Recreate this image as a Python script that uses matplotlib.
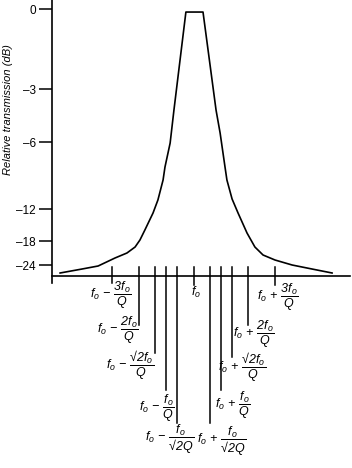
import numpy as np
import matplotlib
matplotlib.use("Agg")
import matplotlib.pyplot as plt
from matplotlib.transforms import blended_transform_factory

plt.rcParams['font.family'] = ['Liberation Sans', 'DejaVu Sans']
plt.rcParams['mathtext.fontset'] = 'custom'
plt.rcParams['mathtext.rm'] = 'Liberation Sans:italic'
plt.rcParams['mathtext.it'] = 'Liberation Sans:italic'
plt.rcParams['mathtext.sf'] = 'Liberation Sans:italic'
plt.rcParams['mathtext.bf'] = 'Liberation Sans:italic:bold'

# ---- data (x in units of f0/Q offset from f0, y in dB) ----
curve_x = [-4.91, -4.10, -3.51, -2.89, -2.45, -2.15, -1.97, -1.79, -1.49, -1.31, -1.12,
           -1.05, -0.86, -0.72, -0.28,
           0.35, 0.83, 0.98, 1.16, 1.23, 1.42, 1.64, 1.97, 2.26, 2.56, 3.00, 3.63, 4.36, 5.10]
curve_db = [-26.18, -25.09, -24.27, -22.25, -21.0, -19.5, -17.8, -15.94, -12.75, -11.19, -9.40,
            -8.24, -6.09, -4.19, -0.11,
            -0.11, -4.19, -5.49, -8.24, -9.40, -11.1, -12.75, -16.5, -19.5, -21.5, -22.75,
            -24.0, -25.09, -26.18]

ytick_vals = [0, -3, -6, -12, -18, -24]
ytick_labels = ['0', '–3', '–6', '–12', '–18', '–24']

xtick_pos = [-3, -2, -1.41, -1, -0.6, 0, 0.6, 1, 1.41, 2, 3]
xtick_labels = [r'$f_o\,-\,\dfrac{3f_o}{Q}$', r'$f_o\,-\,\dfrac{2f_o}{Q}$',
                r'$f_o\,-\,\dfrac{√2f_o}{Q}$', r'$f_o\,-\,\dfrac{f_o}{Q}$',
                r'$f_o\,-\,\dfrac{f_o}{√2Q}$', r'$f_o$',
                r'$f_o\,+\,\dfrac{f_o}{√2Q}$', r'$f_o\,+\,\dfrac{f_o}{Q}$',
                r'$f_o\,+\,\dfrac{√2f_o}{Q}$', r'$f_o\,+\,\dfrac{2f_o}{Q}$',
                r'$f_o\,+\,\dfrac{3f_o}{Q}$']

# ---- layout (pixels) ----
W, H = 352, 468
tick_bottom_px = [283, 325, 353, 390, 423, 285, 423, 390, 357, 325, 285]
tick_top_px = 267
# (anchor x, center y, horizontal alignment)
label_pos_px = [(131, 295, 'right'), (138, 330, 'right'), (154, 365, 'right'),
                (174, 408, 'right'), (194, 439, 'right'), (196, 292, 'center'),
                (197, 441, 'left'), (215, 405, 'left'), (218, 367, 'left'),
                (233, 334, 'left'), (257, 297, 'left')]

# piecewise visual mapping of dB -> pixel height (schematic axis)
map_db = np.array([-32, -27, -24, -18, -12, -6, -3, 0, 1])
map_px = -np.array([296, 276, 265, 241, 209, 142, 89, 9, -18], dtype=float)

def fwd(v):
    return np.interp(v, map_db, map_px)

def inv(p):
    return np.interp(p, map_px, map_db)

fig = plt.figure(figsize=(W / 100, H / 100), dpi=100)
ax = fig.add_axes([52 / W, 1 - 283 / H, 298 / W, 283 / H])
ax.set_yscale('function', functions=(fwd, inv))
ax.set_ylim(-28.75, 0.3375)
ax.set_xlim((52 - 193.5) / 27.17, (350 - 193.5) / 27.17)

ax.plot(curve_x, curve_db, color='black', lw=1.2, solid_joinstyle='round')

for s in ['top', 'right', 'bottom']:
    ax.spines[s].set_visible(False)
ax.spines['left'].set_linewidth(1.2)
ax.axhline(-27, color='black', lw=1.2, clip_on=False)

ax.set_yticks(ytick_vals)
ax.set_yticklabels(ytick_labels)
ax.yaxis.set_minor_locator(matplotlib.ticker.NullLocator())
ax.tick_params(axis='y', direction='out', length=9.5, width=1.1, pad=2, labelsize=8.5)
ax.set_xticks([])

tr = blended_transform_factory(ax.transData, fig.transFigure)
for xp, yb in zip(xtick_pos, tick_bottom_px):
    ax.plot([xp, xp], [1 - tick_top_px / H, 1 - yb / H], color='black', lw=1.1,
            transform=tr, clip_on=False)

for lab, (px, py, ha) in zip(xtick_labels, label_pos_px):
    fig.text(px / W, 1 - py / H, lab, ha=ha, va='center', fontsize=9)

fig.text(8 / W, 1 - 110 / H, 'Relative transmission (dB)', rotation=90, ha='center',
         va='center', fontsize=8.0, style='italic')

fig.savefig('out.png', dpi=100)
